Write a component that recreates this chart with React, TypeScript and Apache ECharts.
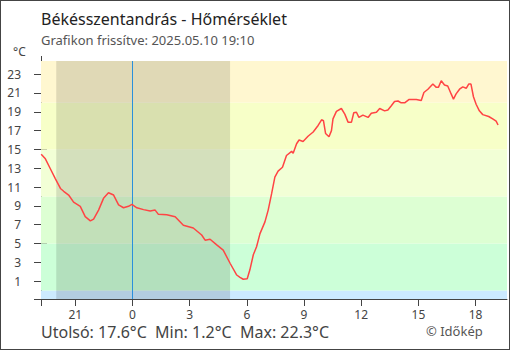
import React, { useEffect, useRef } from "react";
import * as echarts from "echarts";

const TITLE = "Békésszentandrás - Hőmérséklet";
const SUBTITLE = "Grafikon frissítve: 2025.05.10 19:10";
const UNIT = "°C";
const FOOTER = "Utolsó: 17.6°C  Min: 1.2°C  Max: 22.3°C";
const CREDIT = "© Időkép";

// hours relative to midnight (negative = previous day)
const times = [
  -4.79, -4.57, -4.31, -4.05, -3.78, -3.61, -3.35, -3.09, -2.74, -2.48, -2.21, -2.04, -1.78, -1.52, -1.26, -0.99,
  -0.73, -0.47, -0.21, -0.03, 0.23, 0.58, 0.93, 1.19, 1.36, 1.8, 2.24, 2.67, 3.19, 3.63, 3.81, 4.07, 4.42, 4.76,
  5.12, 5.47, 5.64, 5.81, 6.02, 6.16, 6.34, 6.51, 6.69, 6.95, 7.12, 7.3, 7.47, 7.64, 7.87, 8.08, 8.35, 8.43, 8.61,
  8.74, 8.95, 9.21, 9.48, 9.74, 9.92, 10.02, 10.13, 10.31, 10.44, 10.52, 10.7, 10.96, 11.14, 11.31, 11.49, 11.61,
  11.75, 11.88, 12.09, 12.36, 12.53, 12.8, 12.97, 13.23, 13.4, 13.58, 13.75, 13.93, 14.1, 14.28, 14.5, 14.89, 15.15,
  15.29, 15.5, 15.76, 15.94, 16.05, 16.2, 16.37, 16.54, 16.72, 16.84, 16.98, 17.16, 17.33, 17.51, 17.64, 17.76,
  17.89, 18.03, 18.2, 18.38, 18.69, 18.9, 19.08, 19.18,
];
const temps = [
  14.5, 14.0, 12.95, 11.9, 10.85, 10.55, 10.15, 9.4, 8.95, 7.85, 7.4, 7.6, 8.55, 9.8, 10.4, 10.15,
  9.1, 8.8, 8.95, 9.15, 8.8, 8.6, 8.45, 8.55, 8.1, 8.05, 7.85, 6.95, 6.65, 5.9, 5.35, 5.45, 4.85, 4.3,
  2.9, 1.65, 1.4, 1.2, 1.25, 2.2, 3.8, 4.65, 6.05, 7.3, 8.55, 10.3, 12.05, 12.7, 13.1, 14.35, 14.8, 14.6, 15.6,
  16.0, 15.85, 16.4, 16.85, 17.55, 18.15, 18.05, 16.7, 16.35, 17.0, 18.25, 19.05, 19.35, 18.75, 17.9, 17.9, 18.9,
  18.95, 18.4, 18.65, 18.4, 18.85, 18.95, 19.35, 19.1, 19.2, 19.65, 20.1, 20.15, 19.95, 19.95, 20.3, 20.3, 20.2,
  21.05, 21.4, 21.95, 21.6, 21.6, 22.3, 21.85, 21.75, 20.9, 20.35, 20.9, 21.4, 21.65, 21.5, 21.95, 21.95,
  20.6, 19.8, 19.1, 18.7, 18.5, 18.25, 18.0, 17.6,
];

const xTicks = [-3, 0, 3, 6, 9, 12, 15, 18];
const yTicks = [1, 3, 5, 7, 9, 11, 13, 15, 17, 19, 21, 23];
const X_MIN = -4.8;
const X_MAX = 19.65;
const Y_MIN = -0.9;
const Y_MAX = 24.4;

const bandEdges = [Y_MIN, 0, 5, 10, 15, 20, Y_MAX];
const bandColors = ["#cceaff", "#ccffd8", "#ddffd3", "#f2ffd6", "#f7ffc8", "#fff7d0"];
const nightStart = -4.0;
const nightEnd = 5.12;

export default function App() {
  const ref = useRef<HTMLDivElement>(null);
  useEffect(() => {
    if (!ref.current) return;
    const chart = echarts.init(ref.current, undefined, { renderer: "svg" });
    const font = "'Noto Sans', sans-serif";
    const bands = bandColors.map((c, i) => [
      { yAxis: bandEdges[i], itemStyle: { color: c, opacity: 1 } },
      { yAxis: bandEdges[i + 1] },
    ]);
    const night = [
      { xAxis: nightStart, itemStyle: { color: "rgba(0,0,0,0.12)", opacity: 1 } },
      { xAxis: nightEnd },
    ];
    const axisLineStyle = { color: "#444", width: 1 };
    chart.setOption({
      animation: false,
      backgroundColor: "#ffffff",
      grid: { left: 40, right: 2, top: 60, bottom: 50 },
      xAxis: [
        {
          type: "value",
          min: X_MIN,
          max: X_MAX,
          splitLine: { show: false },
          axisLine: { show: true, onZero: false, lineStyle: axisLineStyle },
          axisTick: { show: true, length: 7, lineStyle: axisLineStyle, customValues: [X_MIN, ...xTicks] },
          axisLabel: {
            customValues: xTicks,
            formatter: (v: number) => String(v < 0 ? v + 24 : v),
            color: "#444",
            fontSize: 12,
            fontFamily: font,
            margin: 9,
          },
        },
        {
          type: "value",
          min: X_MIN,
          max: X_MAX,
          position: "bottom",
          splitLine: { show: false },
          axisLine: { show: false, onZero: false },
          axisTick: { show: true, inside: true, length: 6, lineStyle: axisLineStyle, customValues: xTicks },
          axisLabel: { show: false },
        },
      ],
      yAxis: [
        {
          type: "value",
          min: Y_MIN,
          max: Y_MAX,
          splitLine: { show: false },
          axisLine: { show: true, onZero: false, lineStyle: axisLineStyle },
          axisTick: { show: true, length: 7, lineStyle: axisLineStyle, customValues: [Y_MIN, ...yTicks] },
          axisLabel: {
            customValues: yTicks,
            color: "#444",
            fontSize: 12,
            fontFamily: font,
            margin: 20,
          },
        },
        {
          type: "value",
          min: Y_MIN,
          max: Y_MAX,
          position: "left",
          splitLine: { show: false },
          axisLine: { show: false, onZero: false },
          axisTick: { show: true, inside: true, length: 6, lineStyle: axisLineStyle, customValues: yTicks },
          axisLabel: { show: false },
        },
      ],
      series: [
        {
          type: "line",
          data: times.map((t, i) => [t, temps[i]]),
          showSymbol: false,
          symbol: "none",
          lineStyle: { color: "#ff4444", width: 1.5 },
          z: 5,
          markArea: {
            silent: true,
            data: [...bands, night],
          },
          markLine: {
            silent: true,
            symbol: "none",
            label: { show: false },
            lineStyle: { color: "#2a90dc", width: 1, type: "solid" },
            data: [{ xAxis: 0 }],
          },
        },
      ],
      graphic: [
        {
          type: "text",
          left: 40,
          top: 10,
          style: { text: TITLE, font: `16px ${font}`, fill: "#222" },
        },
        {
          type: "text",
          left: 40,
          top: 32,
          style: { text: SUBTITLE, font: `13px ${font}`, fill: "#555" },
        },
        {
          type: "text",
          left: 12,
          top: 44,
          style: { text: UNIT, font: `12px ${font}`, fill: "#444" },
        },
        {
          type: "text",
          left: 40,
          top: 323,
          style: { text: FOOTER, font: `16px ${font}`, fill: "#444" },
        },
        {
          type: "text",
          left: 425,
          top: 323,
          style: { text: CREDIT, font: `13px ${font}`, fill: "#555" },
        },
        {
          type: "line",
          shape: { x1: 40.5, y1: 55, x2: 40.5, y2: 60 },
          style: { stroke: "#444", lineWidth: 1 },
        },
      ],
    });
    return () => chart.dispose();
  }, []);
  return (
    <div
      style={{
        position: "fixed",
        left: 0,
        top: 0,
        width: 510,
        height: 350,
        boxSizing: "border-box",
        border: "1px solid #444",
        background: "#fff",
      }}
    >
      <div ref={ref} style={{ width: 508, height: 348 }} />
    </div>
  );
}
